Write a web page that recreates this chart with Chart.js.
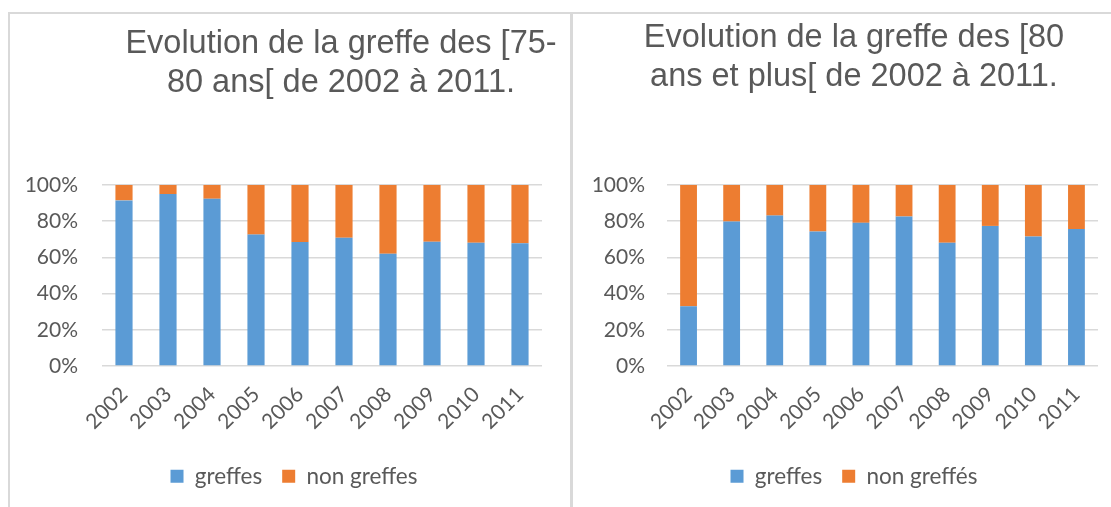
<!DOCTYPE html>
<html lang="fr">
<head>
<meta charset="utf-8">
<title>Evolution de la greffe de 2002 à 2011</title>
<script src="https://cdn.jsdelivr.net/npm/chart.js@4.4.1/dist/chart.umd.min.js"></script>
<style>
  html, body { margin: 0; background: #fff; }
  body { position: relative; width: 1111px; height: 507px; overflow: hidden; }
  .frame { position: absolute; top: 12px; height: 600px; border-top: 2px solid #d9d9d9; }
  #frame-left { left: 8px; width: 562px; border-left: 2px solid #d9d9d9; }
  #frame-right { left: 570px; width: 541px; border-left: 3px solid #d9d9d9; }
  canvas { position: absolute; top: 14px; }
  #chart-left { left: 10px; }
  #chart-right { left: 573px; }
</style>
</head>
<body>
<div class="frame" id="frame-left"></div>
<div class="frame" id="frame-right"></div>
<canvas id="chart-left" width="560" height="493"></canvas>
<canvas id="chart-right" width="538" height="493"></canvas>
<script>
const years = ['2002', '2003', '2004', '2005', '2006', '2007', '2008', '2009', '2010', '2011'];

// [75-80 ans[  (share of patients, %)
const greffes7580 = [91.5, 95, 92.4, 72.6, 68.5, 70.9, 62, 68.7, 68.1, 67.8];
const nonGreffes7580 = [8.5, 5, 7.6, 27.4, 31.5, 29.1, 38, 31.3, 31.9, 32.2];

// [80 ans et plus[
const greffes80 = [33, 79.8, 83.1, 74.3, 79.1, 82.6, 68.1, 77.4, 71.5, 75.7];
const nonGreffes80 = [67, 20.2, 16.9, 25.7, 20.9, 17.4, 31.9, 22.6, 28.5, 24.3];

const yTicks = [0, 20, 40, 60, 80, 100];

const BLUE = '#5b9bd5';
const ORANGE = '#ed7d31';
const TEXT = '#595959';
const GRID = '#d9d9d9';

// Excel puts the title and legend off the plot centre: slide them sideways once laid out
const nudge = {
  id: 'nudge',
  afterLayout(chart, args, opts) {
    const t = chart.titleBlock;
    if (t && opts.titleX != null) {
      const d = opts.titleX - (t.left + t.right) / 2;
      t.left += d;
      t.right += d;
    }
    const l = chart.legend;
    if (l && opts.legendX != null) {
      const d = opts.legendX - (l.left + l.right) / 2;
      l.left += d;
      l.right += d;
    }
  }
};

function buildChart(id, greffes, nonGreffes, names, o) {
  return new Chart(document.getElementById(id), {
    type: 'bar',
    data: {
      labels: years,
      datasets: [
        { label: names[0], data: greffes, backgroundColor: BLUE },
        { label: names[1], data: nonGreffes, backgroundColor: ORANGE }
      ]
    },
    options: {
      responsive: false,
      animation: false,
      categoryPercentage: 1,
      barPercentage: 0.39,
      layout: { padding: o.padding },
      scales: {
        x: {
          stacked: true,
          grid: { display: false },
          border: { display: false },
          ticks: {
            color: TEXT,
            font: { family: 'Lato', size: 21 },
            minRotation: 45,
            maxRotation: 45,
            autoSkip: false,
            padding: 8
          },
          afterFit: s => { s.height = 79; }
        },
        y: {
          stacked: true,
          min: 0,
          max: 100,
          afterBuildTicks: s => { s.ticks = yTicks.map(v => ({ value: v })); },
          ticks: {
            color: TEXT,
            font: { family: 'Lato', size: 21 },
            padding: o.tickPad,
            callback: v => v + '%'
          },
          grid: { color: GRID, lineWidth: 1.5, drawTicks: false },
          border: { display: false },
          afterFit: s => { s.width = 80; }
        }
      },
      plugins: {
        title: {
          display: true,
          text: o.title,
          color: TEXT,
          font: { family: 'Liberation Sans', size: 32.5, weight: 'normal', lineHeight: '39px' },
          padding: o.titlePad
        },
        legend: {
          position: 'bottom',
          labels: {
            color: TEXT,
            font: { family: 'Lato', size: 22.5 },
            boxWidth: 13,
            boxHeight: 13,
            padding: 20
          }
        },
        tooltip: { enabled: false },
        nudge: { titleX: o.titleX, legendX: o.legendX }
      }
    },
    plugins: [nudge]
  });
}

buildChart('chart-left', greffes7580, nonGreffes7580, ['greffes', 'non greffes'], {
  title: ['Evolution de la greffe des [75-', '80 ans[ de 2002 à 2011.'],
  titlePad: { top: 10.5, bottom: 82.5 },
  padding: { left: 12, right: 28, top: 0, bottom: 9.5 },
  tickPad: 24,
  titleX: 331,
  legendX: 284
});

buildChart('chart-right', greffes80, nonGreffes80, ['greffes', 'non greffés'], {
  title: ['Evolution de la greffe des [80', 'ans et plus[ de 2002 à 2011.'],
  titlePad: { top: 4.5, bottom: 88.5 },
  padding: { left: 14, right: 13, top: 0, bottom: 9.5 },
  tickPad: 22,
  titleX: 281,
  legendX: 281
});
</script>
</body>
</html>
